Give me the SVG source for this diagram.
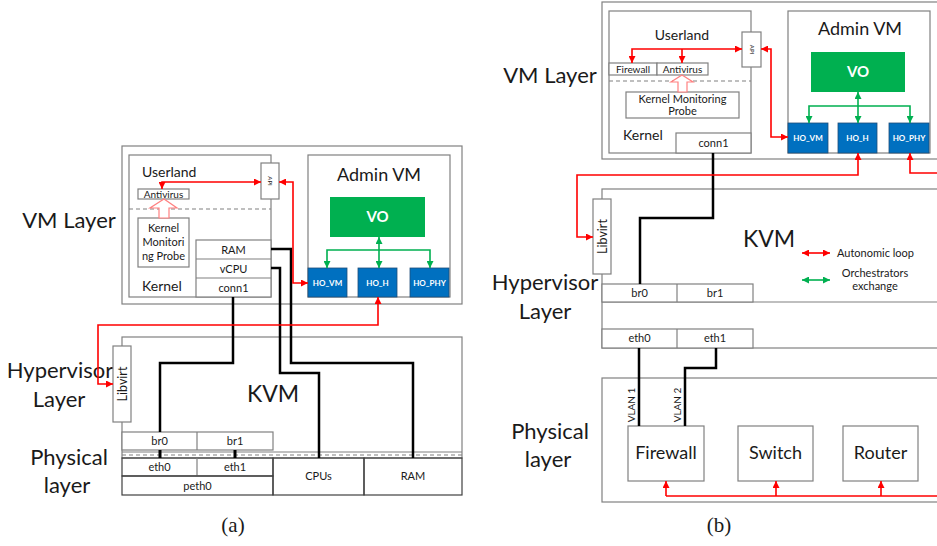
<svg xmlns="http://www.w3.org/2000/svg" width="937" height="546" viewBox="0 0 937 546">
<style>
text{font-family:Lato,"Open Sans","Liberation Sans",sans-serif;fill:#1a1a1a}
.box{fill:#fff;stroke:#808080;stroke-width:1.2}
.dk{fill:none;stroke:#404040;stroke-width:1.2}
.ln{fill:none;stroke:#808080;stroke-width:1.2}
.dash{fill:none;stroke:#808080;stroke-width:1.2;stroke-dasharray:4 3}
.big{font-size:22px}
.mid{font-size:14px}
.sm{font-size:11px}
.xs{font-size:10px}
.api{font-size:6px}
.kvm{font-size:23px}
.adm{font-size:18px}
.vo{fill:#00B050}
.vot{fill:#fff;font-size:15px;font-weight:bold}
.ho{fill:#0070C0;stroke:#1f4e79;stroke-width:0.8}
.hot{fill:#fff;font-size:8px;font-weight:bold}
.red{fill:none;stroke:#FF0000;stroke-width:1.6}
.grn{fill:none;stroke:#00B050;stroke-width:1.6}
.blk{fill:none;stroke:#000;stroke-width:2.5}
.hollow{fill:#fff;stroke:#FF8080;stroke-width:1.2}
.cap{font-family:"Liberation Serif","DejaVu Serif",serif;font-size:21px}
.dev{font-size:18px}
</style>
<defs>
<marker id="ar" viewBox="0 0 10 10" refX="10" refY="5" markerWidth="7" markerHeight="7" markerUnits="userSpaceOnUse" orient="auto-start-reverse"><path d="M0,0 L10,5 L0,10 z" fill="#FF0000"/></marker>
<marker id="ag" viewBox="0 0 10 10" refX="10" refY="5" markerWidth="7" markerHeight="7" markerUnits="userSpaceOnUse" orient="auto-start-reverse"><path d="M0,0 L10,5 L0,10 z" fill="#00B050"/></marker>
</defs>

<!-- ===================== Panel (a) ===================== -->
<g id="a-labels">
<text class="big" x="69" y="228" text-anchor="middle">VM Layer</text>
<text class="big" x="60" y="378" text-anchor="middle">Hypervisor</text>
<text class="big" x="59" y="407" text-anchor="middle">Layer</text>
<text class="big" x="69" y="465" text-anchor="middle">Physical</text>
<text class="big" x="67" y="493" text-anchor="middle">layer</text>
<text class="cap" x="233" y="532" text-anchor="middle">(a)</text>
</g>
<g id="a-vmlayer"><rect class="box" x="122" y="146" width="340" height="158"/></g>
<g id="a-guest">
<rect class="box" x="129" y="155" width="142" height="142"/>
<text class="mid" x="142" y="177">Userland</text>
<text class="mid" x="142" y="291">Kernel</text>
<line class="dash" x1="129" y1="209" x2="271" y2="209"/>
</g>
<g id="a-api"><rect class="box" x="261" y="163" width="18" height="36"/><text class="api" transform="translate(270,181) rotate(90)" text-anchor="middle" dy="2">API</text></g>
<g id="a-antivirus"><rect class="box" x="138" y="189" width="51" height="10"/><text class="xs" x="163.5" y="197.5" text-anchor="middle">Antivirus</text></g>
<g id="a-probe"><rect class="box" x="138" y="218" width="51" height="49"/>
<text class="sm" x="163.5" y="232" text-anchor="middle">Kernel</text>
<text class="sm" x="163.5" y="246" text-anchor="middle">Monitori</text>
<text class="sm" x="163.5" y="260" text-anchor="middle">ng Probe</text></g>
<g id="a-res">
<rect class="box" x="196" y="240" width="75" height="57"/>
<line class="ln" x1="196" y1="259" x2="271" y2="259"/>
<line class="ln" x1="196" y1="278" x2="271" y2="278"/>
<text class="sm" x="233.5" y="253.5" text-anchor="middle">RAM</text>
<text class="sm" x="233.5" y="272.5" text-anchor="middle">vCPU</text>
<text class="sm" x="233.5" y="291.5" text-anchor="middle">conn1</text>
</g>
<g id="a-admin"><rect class="box" x="308" y="155" width="142" height="142"/><text class="adm" x="379" y="181" text-anchor="middle">Admin VM</text></g>
<g id="a-vo"><rect class="vo" x="330" y="197" width="95" height="40"/><text class="vot" x="377.5" y="222" text-anchor="middle">VO</text></g>
<g id="a-hovm"><rect class="ho" x="308" y="268" width="39" height="29"/><text class="hot" x="327.5" y="285.5" text-anchor="middle">HO_VM</text></g>
<g id="a-hoh"><rect class="ho" x="358" y="268" width="39" height="29"/><text class="hot" x="377.5" y="285.5" text-anchor="middle">HO_H</text></g>
<g id="a-hophy"><rect class="ho" x="410" y="268" width="39" height="29"/><text class="hot" x="429.5" y="285.5" text-anchor="middle">HO_PHY</text></g>
<g id="a-kvm">
<rect class="box" x="122" y="337" width="340" height="121"/>
<text class="kvm" x="273" y="402" text-anchor="middle">KVM</text>
<line class="ln" x1="122" y1="452" x2="462" y2="452"/>
<line class="dash" x1="122" y1="455" x2="462" y2="455"/>
</g>
<g id="a-libvirt"><rect class="box" x="113" y="346" width="18" height="76"/><text class="mid" transform="translate(122,384) rotate(-90)" text-anchor="middle" dy="5" style="font-size:12.5px">Libvirt</text></g>
<g id="a-br">
<rect class="box" x="122" y="432" width="151" height="18"/>
<line class="ln" x1="197" y1="432" x2="197" y2="450"/>
<text class="sm" x="159.5" y="445" text-anchor="middle">br0</text>
<text class="sm" x="235" y="445" text-anchor="middle">br1</text>
</g>
<g id="a-phys">
<rect class="dk" x="122" y="458" width="151" height="18"/>
<line class="ln" x1="197" y1="458" x2="197" y2="476"/>
<rect class="dk" x="122" y="476" width="151" height="19"/>
<rect class="dk" x="273" y="458" width="91" height="37"/>
<rect class="dk" x="364" y="458" width="98" height="37"/>
<text class="sm" x="159.5" y="471" text-anchor="middle">eth0</text>
<text class="sm" x="235" y="471" text-anchor="middle">eth1</text>
<text class="sm" x="197.5" y="489.5" text-anchor="middle">peth0</text>
<text class="sm" x="318.5" y="480" text-anchor="middle">CPUs</text>
<text class="sm" x="413" y="480" text-anchor="middle">RAM</text>
</g>
<g id="a-connectors">
<path class="blk" d="M233,297 V363 H160 V432"/>
<path class="blk" d="M271,268 H280 V373 H319 V458"/>
<path class="blk" d="M271,249 H291 V363 H413 V458"/>
<line class="blk" x1="160" y1="450" x2="160" y2="458" style="stroke-width:3"/>
<line class="blk" x1="235" y1="450" x2="235" y2="458" style="stroke-width:3"/>
<polygon class="hollow" points="159,218 159,208 150,208 164,199 177,208 169,208 169,218"/>
<path class="red" d="M162,189 V182 H261" marker-start="url(#ar)" marker-end="url(#ar)"/>
<path class="red" d="M279,182 H293 V283 H308" marker-start="url(#ar)" marker-end="url(#ar)"/>
<path class="red" d="M378,297 V325 H98 V384 H113" marker-start="url(#ar)" marker-end="url(#ar)"/>
<line class="grn" x1="379" y1="268" x2="379" y2="237" marker-start="url(#ag)" marker-end="url(#ag)"/>
<path class="grn" d="M327,268 V250 H430 V268" marker-start="url(#ag)" marker-end="url(#ag)"/>
</g>

<!-- ===================== Panel (b) ===================== -->
<g id="b-labels">
<text class="big" x="550" y="83" text-anchor="middle">VM Layer</text>
<text class="big" x="545" y="290" text-anchor="middle">Hypervisor</text>
<text class="big" x="545" y="319" text-anchor="middle">Layer</text>
<text class="big" x="550" y="439" text-anchor="middle">Physical</text>
<text class="big" x="548" y="467" text-anchor="middle">layer</text>
<text class="cap" x="719" y="532" text-anchor="middle">(b)</text>
</g>
<g id="b-vmlayer"><rect class="box" x="602" y="2" width="345" height="157"/></g>
<g id="b-guest">
<rect class="box" x="609" y="11" width="142" height="142"/>
<text class="mid" x="682" y="40" text-anchor="middle">Userland</text>
<text class="mid" x="623" y="140">Kernel</text>
<line class="dash" x1="609" y1="81" x2="751" y2="81"/>
</g>
<g id="b-api"><rect class="box" x="742" y="32" width="19" height="35"/><text class="api" transform="translate(751.5,49.5) rotate(90)" text-anchor="middle" dy="2">API</text></g>
<g id="b-firewall-app"><rect class="box" x="609" y="63" width="48" height="12"/><text class="xs" x="633" y="72.5" text-anchor="middle">Firewall</text></g>
<g id="b-antivirus"><rect class="box" x="657" y="63" width="51" height="12"/><text class="xs" x="682.5" y="72.5" text-anchor="middle">Antivirus</text></g>
<g id="b-probe"><rect class="box" x="626" y="92" width="113" height="26"/>
<text class="sm" x="682.5" y="102.5" text-anchor="middle">Kernel Monitoring</text>
<text class="sm" x="682.5" y="115" text-anchor="middle">Probe</text></g>
<g id="b-conn1"><rect class="box" x="676" y="133" width="75" height="20"/><text class="sm" x="713.5" y="147" text-anchor="middle">conn1</text></g>
<g id="b-admin"><rect class="box" x="788" y="11" width="142" height="142"/><text class="adm" x="860" y="35" text-anchor="middle">Admin VM</text></g>
<g id="b-vo"><rect class="vo" x="811" y="52" width="94" height="40"/><text class="vot" x="858" y="77" text-anchor="middle">VO</text></g>
<g id="b-hovm"><rect class="ho" x="788" y="123" width="40" height="30"/><text class="hot" x="808" y="141" text-anchor="middle">HO_VM</text></g>
<g id="b-hoh"><rect class="ho" x="838" y="123" width="39" height="30"/><text class="hot" x="857.5" y="141" text-anchor="middle">HO_H</text></g>
<g id="b-hophy"><rect class="ho" x="889" y="123" width="40" height="30"/><text class="hot" x="909" y="141" text-anchor="middle">HO_PHY</text></g>
<g id="b-kvm">
<rect class="box" x="602" y="189" width="345" height="159"/>
<line class="ln" x1="602" y1="302" x2="937" y2="302"/>
<text class="kvm" x="769" y="247" text-anchor="middle">KVM</text>
</g>
<g id="b-libvirt"><rect class="box" x="593" y="199" width="18" height="75"/><text class="mid" transform="translate(602,236.5) rotate(-90)" text-anchor="middle" dy="5" style="font-size:12.5px">Libvirt</text></g>
<g id="b-legend">
<line class="red" x1="802" y1="253" x2="830" y2="253" marker-start="url(#ar)" marker-end="url(#ar)"/>
<text class="sm" x="837" y="257">Autonomic loop</text>
<line class="grn" x1="802" y1="280" x2="830" y2="280" marker-start="url(#ag)" marker-end="url(#ag)"/>
<text class="sm" x="875" y="277" text-anchor="middle">Orchestrators</text>
<text class="sm" x="875" y="290" text-anchor="middle">exchange</text>
</g>
<g id="b-br">
<rect class="box" x="602" y="284" width="151" height="18"/>
<line class="ln" x1="677" y1="284" x2="677" y2="302"/>
<text class="sm" x="639.5" y="297" text-anchor="middle">br0</text>
<text class="sm" x="715" y="297" text-anchor="middle">br1</text>
</g>
<g id="b-eth">
<rect class="box" x="602" y="329" width="151" height="19"/>
<line class="ln" x1="677" y1="329" x2="677" y2="348"/>
<text class="sm" x="639.5" y="342" text-anchor="middle">eth0</text>
<text class="sm" x="715" y="342" text-anchor="middle">eth1</text>
</g>
<g id="b-physical"><rect class="box" x="602" y="378" width="345" height="124"/>
<text class="xs" transform="translate(635,405) rotate(-90)" text-anchor="middle">VLAN 1</text>
<text class="xs" transform="translate(681,405) rotate(-90)" text-anchor="middle">VLAN 2</text>
</g>
<g id="b-firewall"><rect class="box" x="628" y="426" width="76" height="55"/><text class="dev" x="666" y="459" text-anchor="middle">Firewall</text></g>
<g id="b-switch"><rect class="box" x="738" y="426" width="75" height="55"/><text class="dev" x="775.5" y="459" text-anchor="middle">Switch</text></g>
<g id="b-router"><rect class="box" x="843" y="426" width="75" height="55"/><text class="dev" x="880.5" y="459" text-anchor="middle">Router</text></g>
<g id="b-connectors">
<path class="blk" d="M713,153 V218 H640 V284"/>
<path class="blk" d="M639,348 V426"/>
<path class="blk" d="M716,348 V368 H685 V426"/>
<polygon class="hollow" points="678,92 678,82 671,82 682,75 693,82 687,82 687,92"/>
<path class="red" d="M742,49 H632 V63" marker-start="url(#ar)" marker-end="url(#ar)"/>
<line class="red" x1="682" y1="49" x2="682" y2="63" marker-end="url(#ar)"/>
<path class="red" d="M761,49 H771 V137 H788" marker-start="url(#ar)" marker-end="url(#ar)"/>
<path class="red" d="M858,153 V175 H577 V237 H593" marker-start="url(#ar)" marker-end="url(#ar)"/>
<path class="red" d="M910,153 V173 H940" marker-start="url(#ar)"/>
<path class="red" d="M666,496 H940"/>
<line class="red" x1="666" y1="496" x2="666" y2="481" marker-end="url(#ar)"/>
<line class="red" x1="776" y1="496" x2="776" y2="481" marker-end="url(#ar)"/>
<line class="red" x1="881" y1="496" x2="881" y2="481" marker-end="url(#ar)"/>
<line class="grn" x1="858" y1="123" x2="858" y2="92" marker-start="url(#ag)" marker-end="url(#ag)"/>
<path class="grn" d="M809,123 V106 H910 V123" marker-start="url(#ag)" marker-end="url(#ag)"/>
</g>
</svg>
